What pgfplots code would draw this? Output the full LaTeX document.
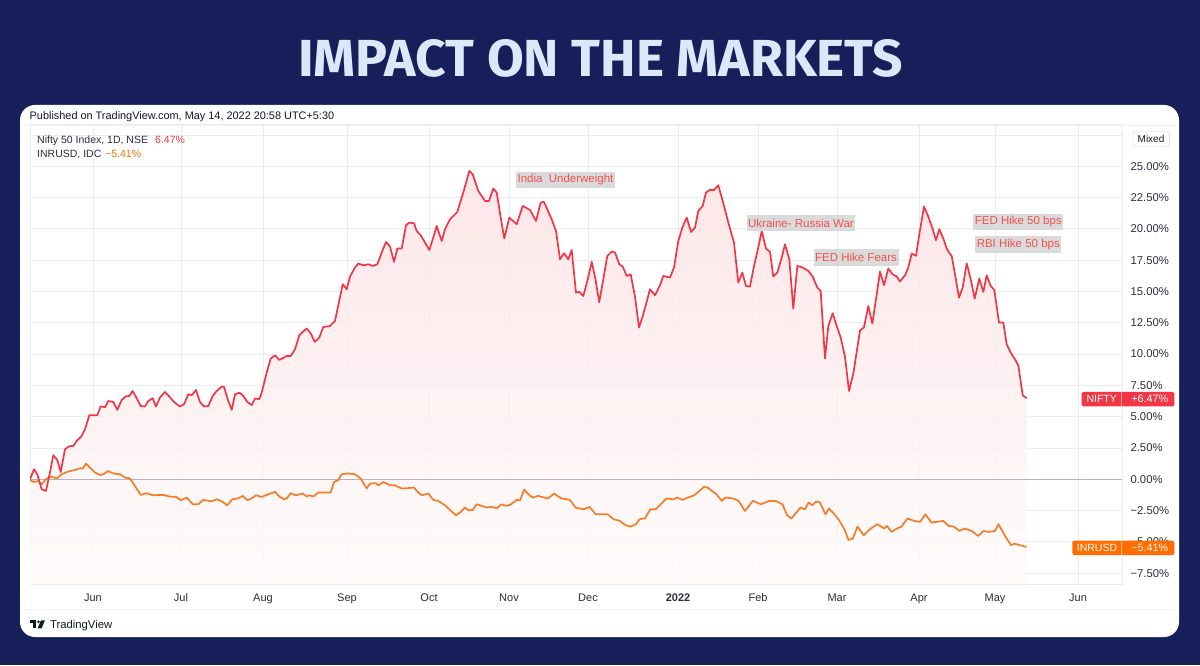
\documentclass[border=0pt]{standalone}
\usepackage{pgfplots}
\pgfplotsset{compat=1.18}
\usepackage{pgfplotstable}
\usepackage{fontspec}
\usepackage{graphicx}
\setmainfont{Liberation Sans}
\newfontfamily\titlefont{Fira Sans}

\definecolor{bgnavy}{HTML}{171F5B}
\definecolor{titlecol}{HTML}{DCE8FA}
\definecolor{niftyred}{HTML}{F23645}
\definecolor{inrorange}{HTML}{F57C28}
\definecolor{inrbox}{HTML}{FF6D00}
\definecolor{gridc}{HTML}{E9ECF2}
\definecolor{txt}{HTML}{131722}
\definecolor{axtxt}{HTML}{2A2E39}
\definecolor{annobox}{HTML}{DADADA}
\definecolor{annotxt}{HTML}{EF5350}
\definecolor{zeroc}{HTML}{B2B5BE}

% x = horizontal position along the time scale (months at the ticks), y = change in %
\pgfplotstableread{
x y
30 0.00
34 0.80
37.3 0.40
41.7 -0.80
46 -0.93
50 0.56
53.3 1.92
57.3 1.54
60.7 0.58
65 2.40
69.3 2.64
73.3 2.66
76.7 3.06
81.7 3.46
85 3.99
89.3 5.11
97.3 5.11
100.7 5.83
105 5.75
108.3 6.25
113.3 6.17
117.3 5.54
121.7 6.33
126 6.63
129.3 6.65
132.7 7.05
136.7 6.47
140.7 5.85
145 5.81
148.3 6.25
152.7 6.47
156 5.81
160 6.53
165 6.97
169.3 6.61
174 6.17
180 5.81
184 5.99
188.3 6.79
191.7 6.71
196 7.13
200 6.17
204 5.81
208.3 5.85
212.7 6.65
216.7 7.05
221.7 7.40
224 7.37
228.3 6.25
231.7 5.54
235 6.77
239.3 6.92
242.7 6.71
247.3 6.17
251.7 5.93
255 6.45
259.3 6.39
261.7 6.92
266.7 8.52
270.7 9.64
275 9.90
279.3 9.53
284 9.72
286.7 9.85
290.7 9.85
295 10.38
299.3 11.50
302.7 11.77
306.7 12.04
310.7 11.66
314.7 10.97
319.3 11.32
323.3 12.16
330 12.24
335 12.64
342.7 15.58
346.7 15.18
350 16.19
355 16.91
358.3 17.23
363.3 17.09
368.3 17.17
372.7 17.04
377.3 17.17
381.7 18.11
386 18.95
390 18.59
394 17.36
397.3 18.43
401.7 18.43
406 20.29
409.3 20.50
414 20.45
416.7 19.83
420.7 19.49
425 18.91
429.3 18.31
433.3 19.31
436.7 20.23
441.7 19.03
445 19.97
450 20.77
457.3 21.35
463.3 22.90
469.3 24.62
472.7 24.36
478.3 23.03
485 22.23
489 22.23
493.3 23.22
496.7 22.90
500.7 20.90
504.3 19.23
509.3 20.90
516.7 20.37
522.7 21.83
530 21.51
536 20.63
540.7 22.10
544 22.15
551.7 20.77
556 19.83
560 17.57
564 18.05
568.3 17.57
571.7 18.31
576 14.91
579.3 14.96
583.3 14.64
587.3 15.84
591.7 17.36
595.5 15.97
599.2 14.14
603.3 15.97
607.3 17.84
611.7 18.19
615 18.11
619.3 17.17
622.7 16.99
626.7 16.24
630.7 16.37
635 14.59
639 12.12
643.3 13.18
650 15.18
655 14.70
660 15.50
663.3 16.24
670 16.11
674 16.91
678.3 19.03
682.3 20.10
686.7 20.90
691 19.75
695 20.10
698.3 21.43
702.7 21.83
706 22.90
710 23.11
714 23.11
718.3 23.48
722.7 22.23
728.3 20.50
734 18.91
738.3 15.71
742.3 16.51
746 15.44
750 15.39
754 17.04
758.3 18.51
761.7 19.83
766 18.43
770 18.16
773.3 16.19
777.3 16.51
781.7 17.71
785 18.77
789.3 17.57
793.3 13.63
797.3 17.04
802.7 16.91
808.3 16.64
812.7 16.19
817.3 15.31
820.7 15.04
825 9.64
828.3 12.24
832.7 13.26
836.7 12.24
840.7 11.32
845 9.78
849 7.05
853.3 8.43
860 11.88
864 12.14
868.3 13.84
872.3 12.44
876 14.38
880 16.59
884 15.50
888.3 16.83
892.7 16.37
896.7 16.19
900 15.79
905 16.29
908.3 16.91
911.7 18.03
916 17.84
919.3 19.57
924 21.78
928.3 20.98
932.7 19.97
936 19.09
939.3 19.97
943.3 19.23
947.3 18.31
951.7 17.84
955 16.37
959 14.51
962.7 15.31
966.7 17.25
970.7 15.97
974.7 14.43
979.3 16.03
983.3 14.96
986.7 16.29
990.7 15.44
994.3 15.12
999 12.52
1003.3 12.52
1006.7 10.78
1010.7 10.12
1015 9.58
1018.3 9.11
1022.7 6.71
1026.7 6.47
}\nifty

\pgfplotstableread{
x y
30 -0.06
34 -0.22
38.3 -0.14
41.7 -0.40
46.7 0.06
51.7 0.22
56.7 0.06
61.7 0.40
68.3 0.62
75 0.74
80 0.88
82.7 0.85
86 1.25
90 0.93
95 0.54
100 0.34
103.3 0.40
108.3 0.66
113.3 0.46
120 0.40
125 0.14
130 0.06
135 -0.54
140.7 -1.25
146.7 -1.12
152.7 -1.28
163.3 -1.25
169.3 -1.38
176 -1.41
181 -1.68
186.7 -1.46
192.7 -2.00
198.3 -2.00
203.3 -1.65
211.7 -1.76
216.7 -1.60
221.7 -1.76
227.3 -2.08
232.3 -1.60
238.3 -1.52
242.7 -1.33
247.7 -1.68
251.7 -1.52
256 -1.28
261.7 -1.41
268.3 -1.20
275 -1.01
279.3 -1.38
284 -1.60
286.7 -1.54
290.7 -1.12
296 -1.28
302.7 -1.14
306.7 -1.38
309.3 -1.28
313.3 -1.38
318.3 -1.06
325 -1.06
330.7 -1.06
334 -0.22
338.3 -0.06
341.7 0.40
348.3 0.46
355 0.40
360.7 0.06
366.7 -0.74
370 -0.34
376 -0.32
378.3 -0.48
383.3 -0.22
390 -0.48
395 -0.48
401.7 -0.74
406.7 -0.72
414 -0.66
418.3 -1.06
421.7 -1.28
428.3 -1.14
433.3 -1.65
438.3 -1.73
445 -2.08
450 -2.45
456 -2.88
460 -2.66
465 -2.26
468.3 -2.48
472.7 -2.45
476.7 -2.00
481.7 -2.13
486.7 -2.26
491.7 -2.21
496.7 -2.32
501.7 -2.00
506 -2.13
510 -2.05
516.7 -1.65
520 -1.69
524.2 -0.82
528.3 -1.20
532.5 -1.46
537.9 -1.33
547.9 -1.54
553.9 -1.14
561 -1.52
566.4 -1.60
570 -1.65
575.4 -2.26
583.6 -2.40
589.6 -2.21
595.7 -2.80
607.5 -2.80
613.6 -3.19
620 -3.33
625.4 -3.67
630.7 -3.78
636 -3.59
639.6 -3.19
645 -3.12
650.4 -2.40
655.7 -2.40
666.4 -1.54
673.6 -1.60
677.1 -1.46
682.5 -1.65
687.9 -1.46
694.3 -1.28
703.9 -0.62
707.5 -0.66
716.4 -1.20
721.8 -1.73
725.4 -1.46
733.6 -1.54
738.6 -1.73
745 -2.53
752.9 -1.73
761 -2.00
769.3 -1.73
775.4 -1.73
782.5 -2.00
787.1 -2.88
791.4 -3.14
800.4 -2.26
805 -2.40
808.6 -1.86
812.1 -2.08
816.4 -1.78
820 -1.86
825.4 -2.80
828.9 -2.34
833.6 -2.72
839.6 -3.33
844.3 -3.99
848.6 -4.85
852.9 -4.74
857.5 -3.78
863.6 -4.47
870 -3.99
877.1 -3.59
884.3 -3.94
887.1 -3.73
891.4 -4.21
896.8 -3.94
901.4 -3.78
907.5 -3.14
914.6 -3.33
920 -3.41
925.4 -2.80
931.4 -3.46
943.2 -3.33
948.6 -3.73
953.9 -3.78
959.3 -4.13
964.6 -3.94
971.8 -4.13
978.2 -4.53
983.6 -4.13
988.6 -4.21
995 -4.13
998.6 -3.59
1005 -4.53
1011.1 -5.27
1014.6 -5.14
1020 -5.27
1026.4 -5.41
}\inrusd

\begin{document}
\begin{tikzpicture}[x=1pt,y=1pt]
\fill[bgnavy] (0,0) rectangle (1200,665);
\node[inner sep=0] at (600.7,606.7) {\resizebox{605pt}{37pt}{\color{titlecol}\titlefont\bfseries IMPACT ON THE MARKETS}};
\fill[white, rounded corners=15pt] (20,28) rectangle (1179,560);
% pane borders
\draw[gridc!70, line width=0.8pt] (24,56) -- (1175,56);
\draw[gridc!70, line width=0.8pt] (24,540) -- (1175,540);

\begin{axis}[
  at={(30,64.5)}, anchor=south west,
  scale only axis, width=1092pt, height=460pt,
  xmin=30, xmax=1122, ymin=-8.387, ymax=28.355,
  axis line style={draw=gridc, line width=0.8pt},
  grid=major, major grid style={draw=gridc, line width=0.8pt},
  xtick={93,181,263,347,429,509,588,678,758,837,919,995,1078},
  xticklabels={Jun,Jul,Aug,Sep,Oct,Nov,Dec,\textbf{2022},Feb,Mar,Apr,May,Jun},
  ytick={-7.5,-5,-2.5,0,2.5,5,7.5,10,12.5,15,17.5,20,22.5,25},
  yticklabels={−7.50\%,−5.00\%,−2.50\%,0.00\%,2.50\%,5.00\%,7.50\%,10.00\%,12.50\%,15.00\%,17.50\%,20.00\%,22.50\%,25.00\%},
  extra y ticks={27.5}, extra y tick labels={},
  yticklabel pos=right,
  major tick length=0pt,
  tick style={draw=none},
  xticklabel style={font=\fontsize{11}{13}\selectfont, text=axtxt, anchor=north, text height=8pt, text depth=2.3pt, yshift=-6.2pt},
  yticklabel style={font=\fontsize{11.3}{13}\selectfont, text=axtxt, anchor=west, xshift=5pt},
]
\addplot[draw=none, top color=niftyred!15, bottom color=niftyred!2, fill opacity=0.8, forget plot]
  table[x=x,y=y] {\nifty} -- (axis cs:1026.7,-8.387) -- (axis cs:30,-8.387) -- cycle;
\draw[zeroc, line width=0.9pt] (axis cs:30,0) -- (axis cs:1122,0);
\addplot[inrorange, line width=1.7pt, line join=round] table[x=x,y=y] {\inrusd};
\addplot[niftyred, line width=1.7pt, line join=round] table[x=x,y=y] {\nifty};
\end{axis}

% header and legend
\node[anchor=base west, inner sep=0, text=txt, font=\fontsize{10.9}{13}\selectfont] at (29.5,545.7) {Published on TradingView.com, May 14, 2022 20:58 UTC+5:30};
\node[anchor=base west, inner sep=0, text=axtxt, font=\fontsize{10.5}{12}\selectfont] at (37,521.7) {Nifty 50 Index, 1D, NSE};
\node[anchor=base west, inner sep=0, text=niftyred, font=\fontsize{10.5}{12}\selectfont] at (155,521.7) {6.47\%};
\node[anchor=base west, inner sep=0, text=axtxt, font=\fontsize{10.5}{12}\selectfont] at (37,507.7) {INRUSD, IDC};
\node[anchor=base west, inner sep=0, text=inrbox, font=\fontsize{10.5}{12}\selectfont] at (105,507.7) {−5.41\%};

% Mixed button
\node[draw=zeroc!60, rounded corners=3pt, fill=white, text=txt, font=\fontsize{10}{12}\selectfont, minimum width=36.6pt, minimum height=15pt, inner sep=0] at (1151,526) {Mixed};

% annotations
\tikzset{anno/.style={fill=annobox, text=annotxt, font=\fontsize{11.5}{13}\selectfont, inner xsep=1.6pt, inner ysep=0pt, minimum height=16.8pt}}
\node[anno] at (565.5,485) {India\ \ Underweight};
\node[anno] at (801,442) {Ukraine- Russia War};
\node[anno] at (856,407.5) {FED Hike Fears};
\node[anno] at (1018.3,443) {FED Hike 50 bps};
\node[anno] at (1018.3,420.3) {RBI Hike 50 bps};

% price scale labels
\fill[niftyred, rounded corners=1.5pt] (1081.7,258.7) rectangle (1174.3,273);
\draw[white, opacity=0.5, line width=0.6pt] (1121.7,258.7) -- (1121.7,273);
\node[text=white, font=\fontsize{10.5}{12}\selectfont, inner sep=0] at (1101.7,265.85) {NIFTY};
\node[anchor=west, text=white, font=\fontsize{10.8}{12}\selectfont, inner sep=0] at (1131.2,265.85) {+6.47\%};
\fill[inrbox, rounded corners=1.5pt] (1072.3,110) rectangle (1174.3,124.3);
\draw[white, opacity=0.5, line width=0.6pt] (1121.7,110) -- (1121.7,124.3);
\node[text=white, font=\fontsize{10.5}{12}\selectfont, inner sep=0] at (1097,117.15) {INRUSD};
\node[anchor=west, text=white, font=\fontsize{10.8}{12}\selectfont, inner sep=0] at (1131.2,117.15) {−5.41\%};

% TradingView logo
\fill[txt] (29.6,44.7) rectangle (36.2,41.9);
\fill[txt] (33.2,44.7) rectangle (36.2,36.7);
\fill[txt] (38.4,43.2) circle (1.45);
\fill[txt] (41.0,44.7) -- (44.9,44.7) -- (41.6,36.7) -- (37.6,36.7) -- cycle;
\node[anchor=base west, inner sep=0, text=txt, font=\fontsize{11.3}{13}\selectfont] at (49.9,36.3) {TradingView};
\end{tikzpicture}
\end{document}
